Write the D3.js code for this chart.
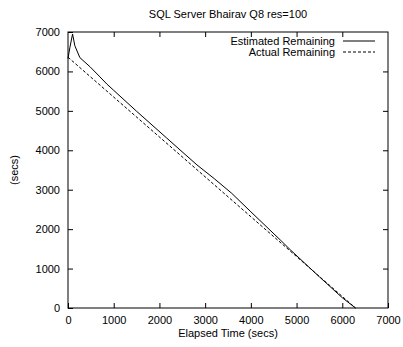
<!DOCTYPE html>
<html>
<head>
<meta charset="utf-8">
<script src="https://cdn.jsdelivr.net/npm/d3@7"></script>
<style>
  body { margin: 0; background: #fff; }
  text { font-family: "Liberation Sans", Arial, sans-serif; font-size: 11px; fill: #000; }
</style>
</head>
<body>
<script>
// values
var estTime = [0, 40, 100, 150, 260, 480, 700, 850, 1000, 1500, 2160, 2450, 2820, 3200, 3580, 4000, 4640, 4860, 5500, 6000, 6290];
var estRemaining = [6330, 6600, 6950, 6650, 6350, 6120, 5860, 5680, 5520, 4990, 4310, 4010, 3630, 3280, 2910, 2440, 1730, 1480, 790, 260, 0];
var actTime = [0, 6290];
var actRemaining = [6360, 0];
var xTicks = [0, 1000, 2000, 3000, 4000, 5000, 6000, 7000];
var yTicks = [0, 1000, 2000, 3000, 4000, 5000, 6000, 7000];

var width = 403, height = 347;
var plotLeft = 68, plotRight = 388, plotTop = 32, plotBottom = 308;

var svg = d3.select('body').append('svg')
	.attr('width', width)
	.attr('height', height);

var x = d3.scaleLinear().domain([0, 7000]).range([plotLeft, plotRight]);
var y = d3.scaleLinear().domain([0, 7000]).range([plotBottom, plotTop]);
var fmt = d3.format('d');

// gnuplot style: ticks point inward on all four sides
svg.append('g')
	.attr('transform', 'translate(0,' + plotBottom + ')')
	.call(d3.axisBottom(x).tickValues(xTicks).tickFormat(fmt).tickSizeInner(-5).tickSizeOuter(0).tickPadding(8));
svg.append('g')
	.attr('transform', 'translate(0,' + plotTop + ')')
	.call(d3.axisTop(x).tickValues(xTicks.slice(1, -1)).tickSizeInner(-5).tickSizeOuter(0).tickFormat(''));
svg.append('g')
	.attr('transform', 'translate(' + plotLeft + ',0)')
	.call(d3.axisLeft(y).tickValues(yTicks).tickFormat(fmt).tickSizeInner(-5).tickSizeOuter(0).tickPadding(8));
svg.append('g')
	.attr('transform', 'translate(' + plotRight + ',0)')
	.call(d3.axisRight(y).tickValues(yTicks.slice(1, -1)).tickSizeInner(-5).tickSizeOuter(0).tickFormat(''));

svg.selectAll('.domain').remove();
svg.selectAll('.tick line').attr('stroke', '#000');
svg.selectAll('.tick text')
	.style('font-size', '11px')
	.style('font-family', '"Liberation Sans", Arial, sans-serif')
	.attr('fill', '#000');

svg.append('rect')
	.attr('x', plotLeft).attr('y', plotTop)
	.attr('width', plotRight - plotLeft).attr('height', plotBottom - plotTop)
	.attr('fill', 'none').attr('stroke', '#000').attr('stroke-width', 1);

var line = d3.line()
	.x(function (d) { return x(d[0]); })
	.y(function (d) { return y(d[1]); });

svg.append('path')
	.datum(d3.zip(estTime, estRemaining))
	.attr('d', line)
	.attr('fill', 'none').attr('stroke', '#000').attr('stroke-width', 1);

svg.append('path')
	.datum(d3.zip(actTime, actRemaining))
	.attr('d', line)
	.attr('fill', 'none').attr('stroke', '#000').attr('stroke-width', 1)
	.attr('stroke-dasharray', '3,2');

// legend
var legend = [
	{ name: 'Estimated Remaining', dash: null },
	{ name: 'Actual Remaining', dash: '3,2' }
];
legend.forEach(function (d, i) {
	var ly = 41 + i * 11;
	svg.append('text')
		.attr('x', 335).attr('y', ly + 4)
		.attr('text-anchor', 'end')
		.text(d.name);
	svg.append('line')
		.attr('x1', 343).attr('x2', 375)
		.attr('y1', ly).attr('y2', ly)
		.attr('stroke', '#000').attr('stroke-width', 1)
		.attr('stroke-dasharray', d.dash);
});

svg.append('text')
	.attr('x', 228).attr('y', 18)
	.attr('text-anchor', 'middle')
	.text('SQL Server Bhairav Q8 res=100');

svg.append('text')
	.attr('x', 228).attr('y', 337)
	.attr('text-anchor', 'middle')
	.text('Elapsed Time (secs)');

svg.append('text')
	.attr('transform', 'translate(18,170) rotate(-90)')
	.attr('text-anchor', 'middle')
	.text('(secs)');
</script>
</body>
</html>
